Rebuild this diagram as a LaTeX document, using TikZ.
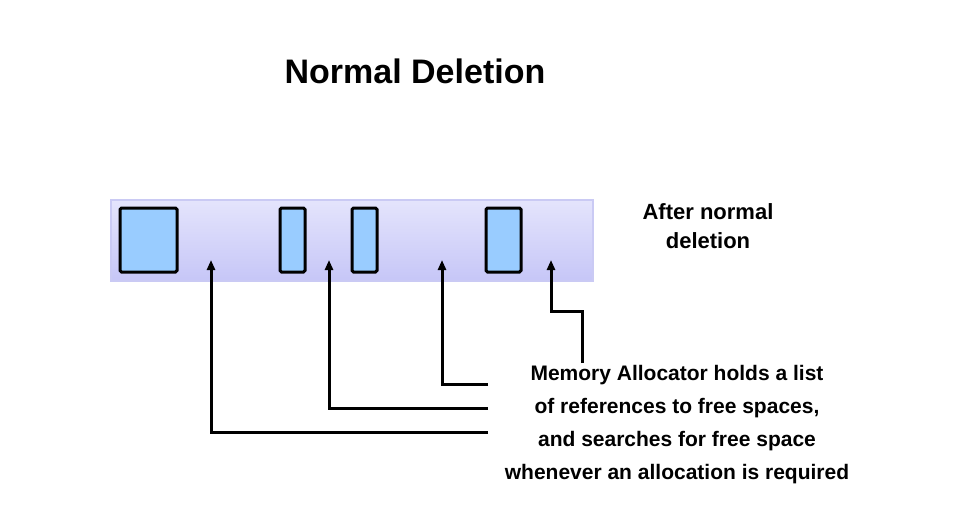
\documentclass[tikz,border=0pt]{standalone}
\usepackage{fontspec}
\setmainfont{Liberation Sans}
\usetikzlibrary{arrows.meta}
\definecolor{cbartop}{HTML}{E4E4FC}
\definecolor{cbarbot}{HTML}{C6C6F7}
\definecolor{cbarline}{HTML}{CACAF4}
\definecolor{cblock}{HTML}{99CCFF}
\tikzset{
  every picture/.style={x=1pt, y=-1pt, line width=2.5pt},
  bar/.style={draw=cbarline, line width=2pt, top color=cbartop, bottom color=cbarbot, minimum width=482pt, minimum height=81pt, inner sep=0pt},
  block/.style={draw=black, fill=cblock, line width=3pt, rounded corners=1.5pt, minimum height=64pt, inner sep=0pt},
  pointer/.style={-{Triangle[length=10pt, width=8pt]}, draw=black, line width=3pt},
  title/.style={font=\fontsize{34}{40}\selectfont\bfseries},
  note/.style={align=center, inner sep=0pt},
}

\begin{document}
\begin{tikzpicture}
  \useasboundingbox (0,0) rectangle (960,511);
  \node[title, anchor=base] (heading) at (415,83) {Normal Deletion};
  % memory strip with the blocks still in use
  \node[bar] (memory) at (352,240.5) {};
  \node[block, minimum width=57pt] (b1) at (148.5,240) {};
  \node[block, minimum width=25pt] (b2) at (292.5,240) {};
  \node[block, minimum width=25pt] (b3) at (364.5,240) {};
  \node[block, minimum width=35pt] (b4) at (503.5,240) {};
  \node[note, anchor=north, font=\fontsize{22}{29}\selectfont\bfseries] (after) at (708,202) {After normal\\deletion};
  \node[note, anchor=north, font=\fontsize{21}{33}\selectfont\bfseries] (alloc) at (677,364) {Memory Allocator holds a list\\of references to free spaces,\\and searches for free space\\whenever an allocation is required};
  % free gaps and the list entries pointing at them
  \coordinate (g1) at (211,260);
  \coordinate (g2) at (329,260);
  \coordinate (g3) at (442,260);
  \coordinate (g4) at (551,260);
  \coordinate (t1) at (488,432);
  \coordinate (t2) at (488,408);
  \coordinate (t3) at (488,384);
  \coordinate (t4) at (582,363);
  \draw[pointer] (t1) -| (g1);
  \draw[pointer] (t2) -| (g2);
  \draw[pointer] (t3) -| (g3);
  \draw[pointer] (t4) -- ++(0,-52) -| (g4);
\end{tikzpicture}
\end{document}
